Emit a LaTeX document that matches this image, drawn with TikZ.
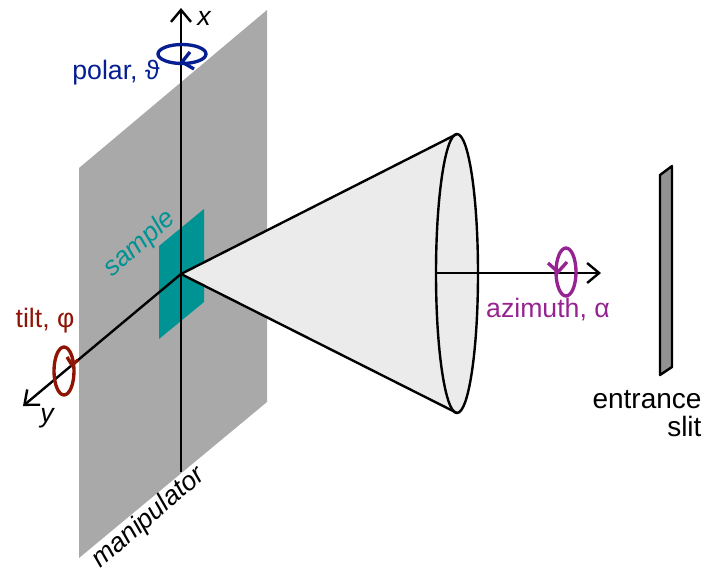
\documentclass[tikz,border=0pt]{standalone}
\usepackage{fontspec}
\setmainfont{Liberation Sans}
\usetikzlibrary{arrows.meta}
\definecolor{plategray}{RGB}{169,169,169}
\definecolor{slitgray}{RGB}{146,146,146}
\definecolor{conegray}{RGB}{235,235,235}
\definecolor{sampleteal}{RGB}{0,147,147}
\definecolor{polarblue}{RGB}{5,30,145}
\definecolor{tiltred}{RGB}{143,20,5}
\definecolor{azimuthpurple}{RGB}{150,35,145}
\tikzset{every picture/.style={line width=0.75pt}}
\tikzset{
  axisline/.style={line width=1.8pt,-{Straight Barb[length=9pt,width=15pt,line width=1.8pt]}},
  outline/.style={line width=1.8pt,line join=round},
  turnring/.style={line width=2.5pt},
  label/.style={inner sep=0pt,font=\fontsize{20pt}{23pt}\selectfont},
  slanted/.style={inner sep=0pt,font=\fontsize{20pt}{23pt}\selectfont\itshape}
}

\begin{document}
\begin{tikzpicture}[x=0.75pt,y=0.75pt,yscale=-1,xscale=1]
\useasboundingbox (0,0) rectangle (704,572);

%Coordinates
\coordinate (origin) at (181,274);
\coordinate (xtip) at (181,8);
\coordinate (xfoot) at (181,472);
\coordinate (ytip) at (23,406);
\coordinate (conetop) at (457,134);
\coordinate (conebottom) at (457,413);
\coordinate (coneback) at (437,273);
\coordinate (alphatip) at (601,273);

%Shape: Manipulator plate
\fill [plategray] (79,168) -- (267,10) -- (267,402) -- (79,558) -- cycle ;
%Shape: Sample
\fill [sampleteal] (159,246) -- (204,209) -- (204,302) -- (159,339) -- cycle ;
%Straight Lines: axes
\draw [axisline] (xfoot) -- (xtip) ;
\draw [axisline] (origin) -- (ytip) ;
%Shape: Cone
\fill [conegray] (origin) -- (conetop) -- (conebottom) -- cycle ;
\draw [outline,fill=conegray] (457,273.5) ellipse (21 and 139.5) ;
\draw [outline] (conetop) -- (origin) -- (conebottom) ;
%Straight Lines: azimuth axis
\draw [axisline] (coneback) -- (alphatip) ;
%Shape: Slit
\draw [outline,fill=slitgray] (660,175) -- (672,166) -- (672,367) -- (660,375) -- cycle ;

%Shape: Polar ring
\draw [turnring,polarblue] (182,54) ellipse (24 and 9.5) ;
\draw [turnring,polarblue] (190,52) -- (182,62) -- (194,69) ;
%Shape: Tilt ring
\draw [turnring,tiltred] (64,371) ellipse (10 and 24) ;
\draw [turnring,tiltred] (67,357) -- (72,365) -- (78,360) ;
%Shape: Azimuth ring
\draw [turnring,azimuthpurple] (566,272) ellipse (10 and 24) ;
\draw [turnring,azimuthpurple] (548,263) -- (558,272) -- (567,262) ;

% Text Node
\node (xlabel) at (204,18) [slanted] {x};
% Text Node
\node (ylabel) at (47,418) [slanted] {y};
% Text Node
\node (polarlabel) at (116,73) [label,text=polarblue] {polar, ϑ};
% Text Node
\node (tiltlabel) at (45,321) [label,text=tiltred] {tilt, φ};
% Text Node
\node (azimuthlabel) at (548,310) [label,text=azimuthpurple] {azimuth, α};
% Text Node
\node (samplelabel) at (140,244) [slanted,text=sampleteal,rotate=42] {sample};
% Text Node
\node (manipulatorlabel) at (149,518) [slanted,rotate=41] {manipulator};
% Text Node
\node (slitlabel) at (647,414) [inner sep=0pt,font=\fontsize{21pt}{21pt}\selectfont,align=right] {entrance\\slit};

\end{tikzpicture}
\end{document}
